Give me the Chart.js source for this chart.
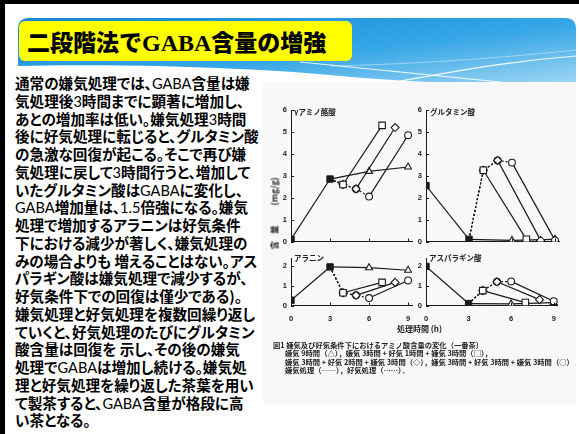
<!DOCTYPE html>
<html>
<head>
<meta charset="utf-8">
<script src="https://cdn.jsdelivr.net/npm/chart.js@4.4.1/dist/chart.umd.min.js"></script>
<style>
  html, body { margin: 0; padding: 0; background: #fff; }
  #slide { position: relative; width: 579px; height: 434px; overflow: hidden; background: #fff;
           font-family: "Noto Sans CJK JP", sans-serif; color: #000; }
  .frame-top { position: absolute; left: 0; top: 0; width: 579px; height: 4px; background: #000; }
  .frame-left { position: absolute; left: 0; top: 0; width: 5px; height: 434px; background: #000; }
  #banner { position: absolute; left: 0; top: 0; }
  #title-box { position: absolute; left: 19px; top: 21px; width: 333px; height: 40px;
               background: #ffff00; border-radius: 6px; }
  #title { position: absolute; left: 27px; top: 24px; font-size: 23px; font-weight: 900;
           line-height: 34px; white-space: nowrap; }
  #title .serif { font-family: "Liberation Serif", serif; font-weight: 700; font-size: 24px; }
  #body { position: absolute; left: 15px; top: 74px; font-size: 14.6px; font-weight: 700;
          white-space: nowrap; font-feature-settings: "palt"; }
  #body div { height: 17.75px; line-height: 17.75px; }
  #body .lat { font-family: Lato, "Noto Sans CJK JP", sans-serif; font-weight: 400; line-height: 17.75px; }
  #figure-bg { position: absolute; left: 263px; top: 82px; width: 313px; height: 323px; background: #f8f8f8; }
  .panel { position: absolute; }
  .ptitle { position: absolute; font-size: 7.5px; font-weight: 700; color: #222; white-space: nowrap; line-height: 9px; }
  #ylabel { position: absolute; left: 236px; top: 207px; width: 75px; height: 10px; text-align: left;
            font-size: 8.5px; font-weight: 700; color: #222; transform: rotate(-90deg); white-space: nowrap; line-height: 10px; }
  #ylabel .gap1 { margin-left: 7px; }
  #ylabel .gap2 { margin-left: 20px; }
  #xlabel { position: absolute; left: 397px; top: 324px; font-size: 8px; font-weight: 700; color: #222; white-space: nowrap; line-height: 10px; }
  #caption { position: absolute; left: 273px; top: 341px; font-size: 7.3px; line-height: 8.4px; color: #222; white-space: nowrap; font-weight: 700; }
  #caption .ind { padding-left: 12px; }
</style>
</head>
<body>
<div id="slide">
  <svg id="banner" width="579" height="100" xmlns="http://www.w3.org/2000/svg">
    <defs>
      <linearGradient id="bandGrad" x1="0" y1="0" x2="1" y2="1">
        <stop offset="0" stop-color="#1688d4"/>
        <stop offset="0.55" stop-color="#35a6e6"/>
        <stop offset="1" stop-color="#9fd6f3"/>
      </linearGradient>
    </defs>
    <path d="M18,29 Q18,18 29,18 L565,18 Q576,18 576,29 L576,83 C500,85 420,84 330,75 C230,66 100,64 18,66 Z" fill="url(#bandGrad)"/>
    <path d="M300,62 C380,70 440,76 520,84" stroke="#ffffff" stroke-width="1.2" fill="none" opacity="0.9"/>
    <path d="M385,84 C440,74 500,62 576,56" stroke="#ffffff" stroke-width="1.2" fill="none" opacity="0.9"/>
    <path d="M330,66 C420,64 500,58 576,50" stroke="#ffffff" stroke-width="0.8" fill="none" opacity="0.5"/>
  </svg>
  <div class="frame-top"></div>
  <div class="frame-left"></div>
  <div id="title-box"></div>
  <div id="title">二段階法で<span class="serif">GABA</span>含量の増強</div>

  <div id="figure-bg"></div>
  <div id="body"></div>

  <canvas id="cGaba" class="panel" style="left:270px;top:100px;width:150px;height:150px"></canvas>
  <canvas id="cGlu" class="panel" style="left:405px;top:100px;width:160px;height:150px"></canvas>
  <canvas id="cAla" class="panel" style="left:270px;top:250px;width:150px;height:80px"></canvas>
  <canvas id="cAsn" class="panel" style="left:405px;top:250px;width:160px;height:80px"></canvas>

  <div class="ptitle" style="left:294px;top:107px">γアミノ酪酸</div>
  <div class="ptitle" style="left:430px;top:107px">グルタミン酸</div>
  <div class="ptitle" style="left:294px;top:253px">アラニン</div>
  <div class="ptitle" style="left:429px;top:253px">アスパラギン酸</div>
  <div id="ylabel">含<span class="gap1">量</span><span class="gap2">(mg/g)</span></div>
  <div id="xlabel">処理時間 (h)</div>
  <div id="caption">
    <div>図1 嫌気及び好気条件下におけるアミノ酸含量の変化（一番茶）</div>
    <div class="ind">嫌気 9時間（△），嫌気 3時間 + 好気 1時間 + 嫌気 3時間（□），</div>
    <div class="ind">嫌気 3時間 + 好気 2時間 + 嫌気 3時間（◇），嫌気 3時間 + 好気 3時間 + 嫌気 3時間（○）</div>
    <div class="ind">嫌気処理（──），好気処理（……）．</div>
  </div>
</div>

<script>
// ---- body text ----
const bodyLines = [
  "通常の嫌気処理では、GABA含量は嫌",
  "気処理後3時間までに顕著に増加し、",
  "あとの増加率は低い。嫌気処理3時間",
  "後に好気処理に転じると、グルタミン酸",
  "の急激な回復が起こる。そこで再び嫌",
  "気処理に戻して3時間行うと、増加して",
  "いたグルタミン酸はGABAに変化し、",
  "GABA増加量は、1.5倍強になる。嫌気",
  "処理で増加するアラニンは好気条件",
  "下における減少が著しく、嫌気処理の",
  "みの場合よりも 増えることはない。アス",
  "パラギン酸は嫌気処理で減少するが、",
  "好気条件下での回復は僅少である)。",
  "嫌気処理と好気処理を複数回繰り返し",
  "ていくと、好気処理のたびにグルタミン",
  "酸含量は回復を 示し、その後の嫌気",
  "処理でGABAは増加し続ける。嫌気処",
  "理と好気処理を繰り返した茶葉を用い",
  "て製茶すると、GABA含量が格段に高",
  "い茶となる。"
];

// ---- chart data: hours of each treatment course ----
const hoursCommon = [0, 3];          // shared anaerobic start
const hoursTri = [3, 6, 9];          // anaerobic 9 h
const hoursSq  = [3, 4, 7];          // 3 h + aerobic 1 h + 3 h
const hoursDia = [3, 4, 5, 8];       // 3 h + aerobic 2 h + 3 h
const hoursCir = [3, 4, 5, 6, 9];    // 3 h + aerobic 3 h + 3 h
const aerobicHours = { tri: 0, sq: 1, dia: 2, cir: 3 };

// γ-aminobutyric acid (mg/g)
const gabaCommon = [0.1, 2.85];
const gabaTri = [2.85, 3.2, 3.4];
const gabaSq  = [2.85, 2.6, 5.3];
const gabaDia = [2.85, 2.6, 2.4, 5.2];
const gabaCir = [2.85, 2.6, 2.4, 2.05, 4.85];

// glutamic acid
const gluCommon = [2.55, 0.1];
const gluTri = [0.1, 0.05, 0.1];
const gluSq  = [0.1, 3.25, 0.1];
const gluDia = [0.1, 3.25, 3.7, 0.05];
const gluCir = [0.1, 3.25, 3.7, 3.6, 0.05];

// alanine
const alaCommon = [0.27, 1.97];
const alaTri = [1.97, 1.93, 1.8];
const alaSq  = [1.97, 0.65, 1.18];
const alaDia = [1.97, 0.65, 0.52, 1.18];
const alaCir = [1.97, 0.65, 0.52, 0.38, 1.28];

// asparagine acid
const asnCommon = [2.0, 0.1];
const asnTri = [0.1, 0.08, 0.15];
const asnSq  = [0.1, 0.76, 0.15];
const asnDia = [0.1, 0.76, 1.21, 0.3];
const asnCir = [0.1, 0.76, 1.21, 1.23, 0.22];

// tick labels
const hourTicks = [0, 3, 6, 9];
const upperTicks = [0, 1, 2, 3, 4, 5, 6];
const lowerTicks = [0, 1, 2];

// ---- body text rendering ----
const bodyEl = document.getElementById('body');
bodyLines.forEach(line => {
  const d = document.createElement('div');
  line.split(/([A-Za-z0-9.]+)/).forEach((part, i) => {
    if (!part) return;
    if (i % 2 === 1) {
      const s = document.createElement('span');
      s.className = 'lat';
      s.textContent = part;
      d.appendChild(s);
    } else {
      d.appendChild(document.createTextNode(part));
    }
  });
  bodyEl.appendChild(d);
});

// ---- charts ----
const INK = '#1a1a1a';
const pts = (xs, ys) => xs.map((x, i) => ({ x, y: ys[i] }));

function course(xs, ys, style, aer, radius) {
  return {
    data: pts(xs, ys),
    borderColor: INK,
    borderWidth: 1.2,
    pointStyle: style,
    pointRadius: ctx => ctx.dataIndex === 0 ? 0 : radius,
    pointBackgroundColor: '#ffffff',
    pointBorderColor: INK,
    pointBorderWidth: 1.1,
    fill: false,
    tension: 0,
    segment: {
      borderDash: ctx => (ctx.p0.parsed.x >= 3 && ctx.p1.parsed.x <= 3 + aer && aer > 0) ? [2, 2] : undefined
    }
  };
}

// small inward tick marks on both axes
const innerTicks = {
  id: 'innerTicks',
  afterDatasetsDraw(chart) {
    const { ctx, chartArea: a, scales: { x, y } } = chart;
    ctx.save();
    ctx.strokeStyle = INK;
    ctx.lineWidth = 1;
    y.ticks.forEach(t => {
      const py = Math.round(y.getPixelForValue(t.value)) + 0.5;
      ctx.beginPath(); ctx.moveTo(a.left, py); ctx.lineTo(a.left + 3, py); ctx.stroke();
    });
    x.ticks.forEach(t => {
      if (t.value === 0) return;
      const px = Math.round(x.getPixelForValue(t.value)) + 0.5;
      ctx.beginPath(); ctx.moveTo(px, a.bottom); ctx.lineTo(px, a.bottom - 3); ctx.stroke();
    });
    ctx.restore();
  }
};

function makeChart(id, series, yMax, yTicks, showX, pad) {
  const [common, tri, sq, dia, cir] = series;
  new Chart(document.getElementById(id), {
    type: 'line',
    data: {
      datasets: [
        {
          data: pts(hoursCommon, common),
          borderColor: INK, borderWidth: 1.2,
          pointStyle: 'rect', pointRadius: 4.5,
          pointBackgroundColor: INK, pointBorderColor: INK, pointBorderWidth: 1
        },
        course(hoursSq, sq, 'rect', aerobicHours.sq, 4.6),
        course(hoursDia, dia, 'rectRot', aerobicHours.dia, 4),
        course(hoursCir, cir, 'circle', aerobicHours.cir, 3.4),
        course(hoursTri, tri, 'triangle', aerobicHours.tri, 4)
      ]
    },
    options: {
      responsive: false,
      animation: false,
      devicePixelRatio: 1,
      layout: { padding: pad },
      plugins: { legend: { display: false }, tooltip: { enabled: false } },
      scales: {
        x: {
          type: 'linear', min: 0, max: 9.3,
          grid: { display: false, drawTicks: false },
          border: { display: true, color: INK, width: 1 },
          afterBuildTicks: s => { s.ticks = hourTicks.map(v => ({ value: v })); },
          afterFit: s => { s.height = showX ? 24.5 : 0; },
          ticks: {
            display: showX, padding: 9, color: '#222',
            font: { family: 'Liberation Sans', size: 7.5, weight: 'bold' }
          }
        },
        y: {
          type: 'linear', min: 0, max: yMax,
          grid: { display: false, drawTicks: false },
          border: { display: true, color: INK, width: 1 },
          afterBuildTicks: s => { s.ticks = yTicks.map(v => ({ value: v })); },
          afterFit: s => { s.width = 21; },
          ticks: {
            padding: 4, color: '#222',
            font: { family: 'Liberation Sans', size: 7.5, weight: 'bold' }
          }
        }
      }
    },
    plugins: [innerTicks]
  });
}

function sizeCanvas(id) {
  const c = document.getElementById(id);
  c.width = parseFloat(c.style.width);
  c.height = parseFloat(c.style.height);
}
['cGaba', 'cGlu', 'cAla', 'cAsn'].forEach(sizeCanvas);

makeChart('cGaba', [gabaCommon, gabaTri, gabaSq, gabaDia, gabaCir], 6, upperTicks, false,
  { top: 10, right: 8, bottom: 3, left: 0 });
makeChart('cGlu', [gluCommon, gluTri, gluSq, gluDia, gluCir], 6, upperTicks, false,
  { top: 10, right: 5, bottom: 3, left: 0 });
makeChart('cAla', [alaCommon, alaTri, alaSq, alaDia, alaCir], 2.4, lowerTicks, true,
  { top: 7, right: 8, bottom: 0, left: 0 });
makeChart('cAsn', [asnCommon, asnTri, asnSq, asnDia, asnCir], 2.4, lowerTicks, true,
  { top: 7, right: 5, bottom: 0, left: 0 });
</script>
</body>
</html>
